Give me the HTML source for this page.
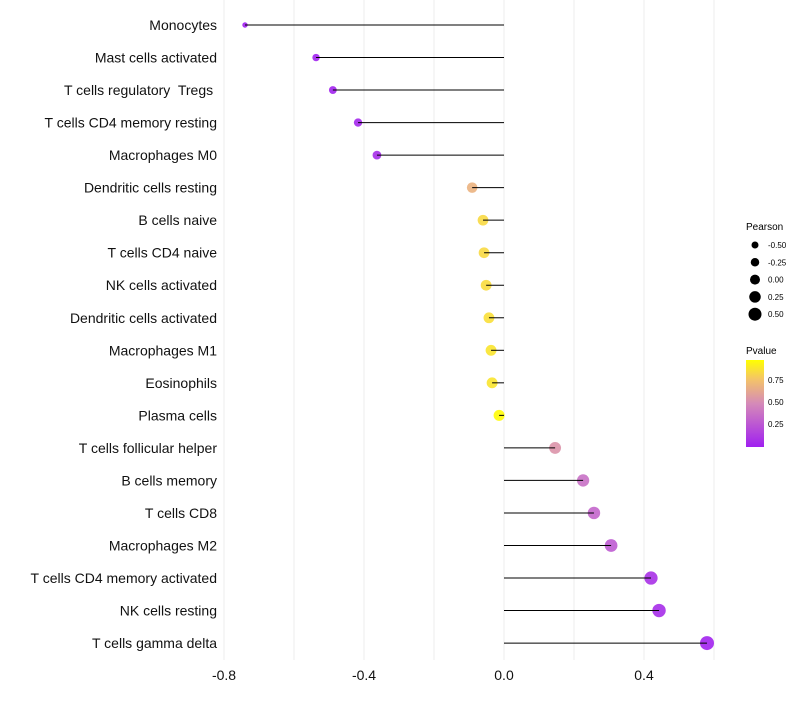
<!DOCTYPE html>
<html><head><meta charset="utf-8"><style>
body{margin:0;background:#fff;font-family:"Liberation Sans",sans-serif}
text{white-space:pre}
</style></head><body>
<svg id="chart" width="800" height="700" xmlns="http://www.w3.org/2000/svg" font-family="Liberation Sans, sans-serif" xml:space="preserve">
<defs><linearGradient id="pg" x1="0" y1="1" x2="0" y2="0">
<stop offset="0" stop-color="#A020F0"/><stop offset="0.5" stop-color="#D58AB8"/><stop offset="0.78" stop-color="#F4C468"/><stop offset="1" stop-color="#FFFF00"/></linearGradient></defs>
<g id="grid"></g>
<g id="marks"></g>
<g id="labels"></g>
<g id="xt"></g>
<g>
<text x="746" y="230" font-size="10">Pearson</text>
<g id="sleg"></g>
</g>
<g>
<text x="746" y="354" font-size="10">Pvalue</text>
<rect x="746" y="360" width="18" height="87" fill="url(#pg)"/>
<text x="768" y="383" font-size="8">0.75</text>
<text x="768" y="405" font-size="8">0.50</text>
<text x="768" y="427" font-size="8">0.25</text>
</g>
</svg>
<script>
const categories=["Monocytes","Mast cells activated","T cells regulatory  Tregs ","T cells CD4 memory resting","Macrophages M0","Dendritic cells resting","B cells naive","T cells CD4 naive","NK cells activated","Dendritic cells activated","Macrophages M1","Eosinophils","Plasma cells","T cells follicular helper","B cells memory","T cells CD8","Macrophages M2","T cells CD4 memory activated","NK cells resting","T cells gamma delta"];
const pearson=[-0.74,-0.537,-0.489,-0.417,-0.363,-0.091,-0.06,-0.057,-0.051,-0.043,-0.037,-0.034,-0.014,0.146,0.226,0.257,0.306,0.42,0.443,0.58];
const pvalue=[0.0,0.01,0.02,0.04,0.06,0.7,0.86,0.86,0.87,0.88,0.9,0.9,0.99,0.55,0.38,0.33,0.28,0.08,0.06,0.02];
const xTicks=[-0.8,-0.4,0.0,0.4];
const grids=[-0.8,-0.6,-0.4,-0.2,0,0.2,0.4,0.6];
const legendVals=[-0.5,-0.25,0,0.25,0.5];
const NS="http://www.w3.org/2000/svg";
const x=v=>504+v*350;
const y=i=>25+i*32.53;
const r=v=>Math.sqrt(Math.max(2.5,30.7+31.6*v));
function lerp(a,b,t){return a.map((c,k)=>Math.round(c+(b[k]-c)*t));}
const stops=[[0,[160,32,240]],[0.5,[213,138,184]],[0.78,[244,196,104]],[1,[255,255,0]]];
function col(p){for(let k=1;k<stops.length;k++){if(p<=stops[k][0]){const t=(p-stops[k-1][0])/(stops[k][0]-stops[k-1][0]);return "rgb("+lerp(stops[k-1][1],stops[k][1],t).join(",")+")";}}return "rgb(255,255,0)";}
function mk(t,a,parent){const e=document.createElementNS(NS,t);for(const k in a)e.setAttribute(k,a[k]);parent.appendChild(e);return e;}
const G=document.getElementById("grid"),M=document.getElementById("marks"),L=document.getElementById("labels"),XT=document.getElementById("xt"),SL=document.getElementById("sleg");
grids.forEach(g=>{const l=mk("line",{x1:x(g),x2:x(g),y1:0,y2:660,stroke:"#ededed","stroke-width":1},G);

});
categories.forEach((c,i)=>{
const d=mk("circle",{cx:x(pearson[i]),cy:y(i),r:r(pearson[i]),fill:col(pvalue[i]),"fill-opacity":0.9},M);


const s=mk("line",{x1:x(0),x2:x(pearson[i]),y1:y(i),y2:y(i),stroke:"#000","stroke-width":1},M);


const t=mk("text",{x:217,y:y(i)+5,"text-anchor":"end","font-size":14,fill:"#111"},L);t.textContent=c;


});
xTicks.forEach(v=>{const t=mk("text",{x:x(v),y:680,"text-anchor":"middle","font-size":14,fill:"#111"},XT);t.textContent=v.toFixed(1);

});
legendVals.forEach((v,k)=>{const cy=245+k*17.3;
const c=mk("circle",{cx:755,cy:cy,r:3.5+k*0.75,fill:"#000"},SL);


const t=mk("text",{x:768,y:cy+3,"font-size":8},SL);t.textContent=v.toFixed(2);

});
</script>
</body></html>
